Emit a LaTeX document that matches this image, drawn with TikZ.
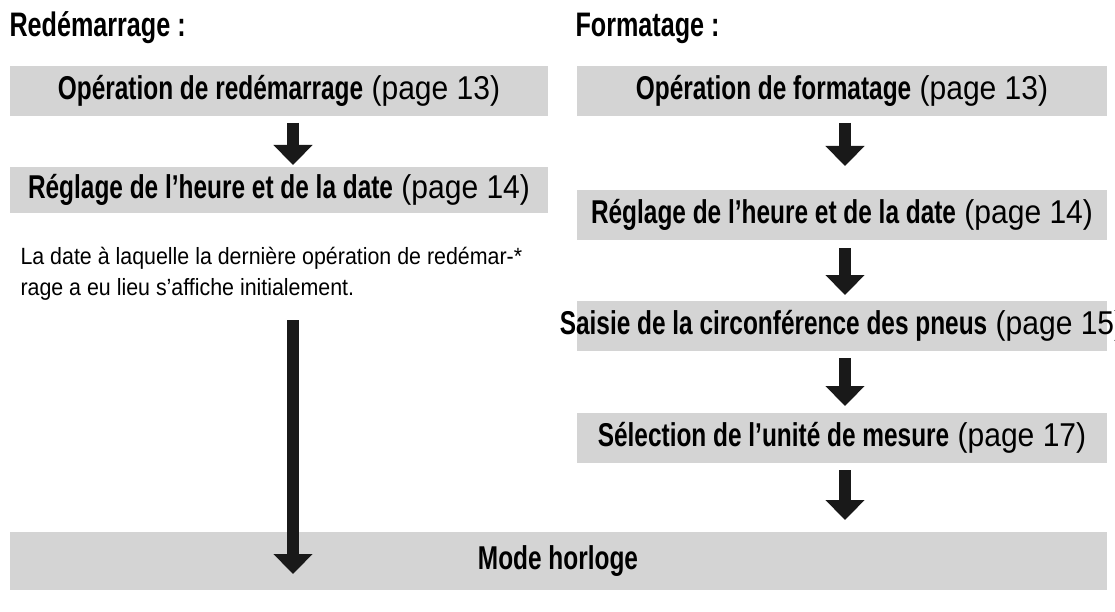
\documentclass[tikz,border=0pt]{standalone}
\usepackage{fontspec}
\setmainfont{Liberation Sans}[FakeStretch=0.91,BoldFeatures={FakeStretch=0.74}]
\usetikzlibrary{arrows.meta}
\begin{document}
\begin{tikzpicture}[x=1pt,y=-1pt,
  box/.style={fill=black!17,draw=none,inner sep=0pt},
  lbl/.style={font=\fontsize{33}{36}\selectfont},
  flow/.style={line width=12pt,-{Triangle[length=20pt,width=38pt]},black!90}]
\useasboundingbox (0,0) rectangle (1115,612);
\node[anchor=west,font=\fontsize{34}{36}\selectfont\bfseries] (h1) at (6,28) {Redémarrage :};
\node[anchor=west,font=\fontsize{34}{36}\selectfont\bfseries] (h2) at (572,28) {Formatage :};
\node[box,minimum width=538,minimum height=50] (l1) at (279,91) {};
\node[lbl] at (l1) {\textbf{Opération de redémarrage} (page 13)};
\node[box,minimum width=538,minimum height=46] (l2) at (279,190) {};
\node[lbl] at (l2) {\textbf{Réglage de l’heure et de la date} (page 14)};
\node[anchor=north west,align=left,font=\fontsize{23.5}{31}\selectfont] (note) at (17,244)
  {La date à laquelle la dernière opération de redémar-*\\rage a eu lieu s’affiche initialement.};
\node[box,minimum width=530,minimum height=50] (r1) at (842,91) {};
\node[lbl] at (r1) {\textbf{Opération de formatage} (page 13)};
\node[box,minimum width=530,minimum height=50] (r2) at (842,215) {};
\node[lbl] at (r2) {\textbf{Réglage de l’heure et de la date} (page 14)};
\node[box,minimum width=530,minimum height=50] (r3) at (842,326) {};
\node[lbl] at (r3) {\textbf{Saisie de la circonférence des pneus} (page 15)};
\node[box,minimum width=530,minimum height=50] (r4) at (842,438) {};
\node[lbl] at (r4) {\textbf{Sélection de l’unité de mesure} (page 17)};
\node[box,minimum width=1097,minimum height=58] (m) at (558,561) {};
\node[lbl] at (m) {\textbf{Mode horloge}};
\coordinate (a1s) at (293,123); \coordinate (a1e) at (293,165);
\coordinate (a2s) at (293,320); \coordinate (a2e) at (293,574);
\coordinate (b1s) at (845,123); \coordinate (b1e) at (845,166);
\coordinate (b2s) at (845,248); \coordinate (b2e) at (845,295);
\coordinate (b3s) at (845,358); \coordinate (b3e) at (845,406);
\coordinate (b4s) at (845,470); \coordinate (b4e) at (845,520);
\draw[flow] (a1s) -- (a1e);
\draw[flow] (a2s) -- (a2e);
\draw[flow] (b1s) -- (b1e);
\draw[flow] (b2s) -- (b2e);
\draw[flow] (b3s) -- (b3e);
\draw[flow] (b4s) -- (b4e);
\end{tikzpicture}
\end{document}
